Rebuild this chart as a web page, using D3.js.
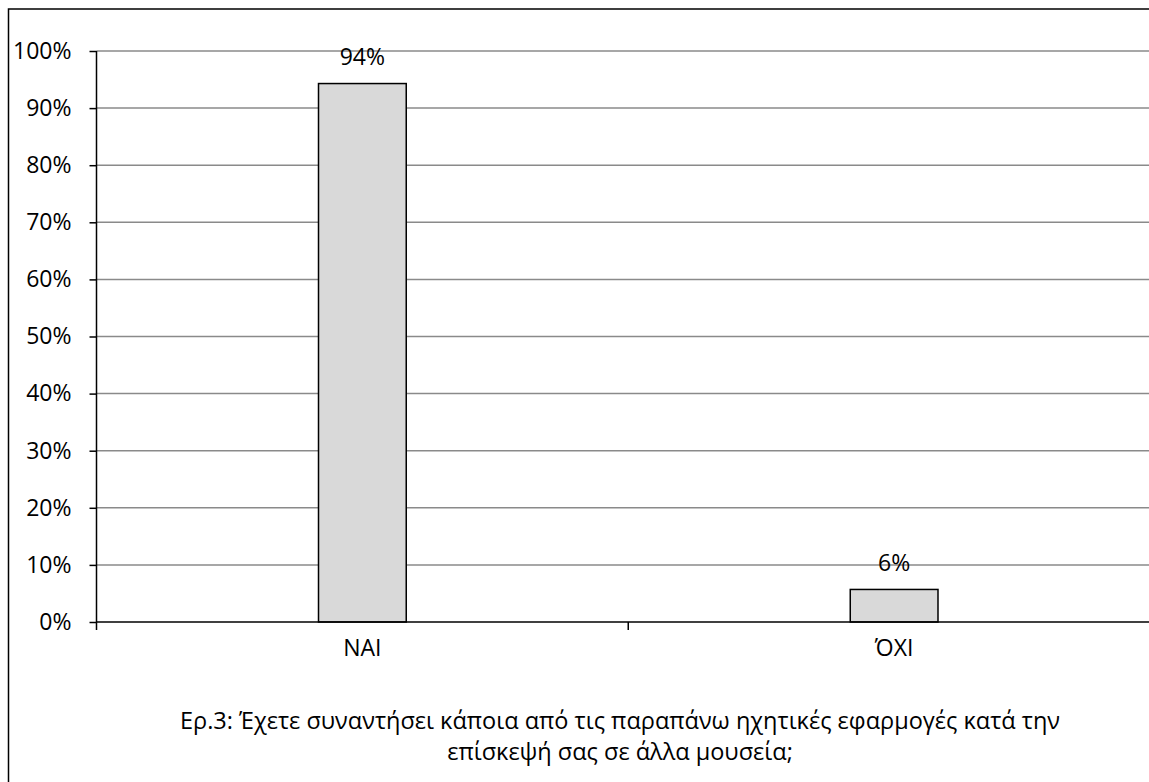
<!DOCTYPE html>
<html>
<head>
<meta charset="utf-8">
<script src="https://cdn.jsdelivr.net/npm/d3@7"></script>
<style>
  html, body { margin: 0; padding: 0; background: #fff; overflow: hidden; }
  svg { display: block; }
  text { font-family: "Open Sans", "Noto Sans", "DejaVu Sans", sans-serif; fill: #000; }
</style>
</head>
<body>
<svg id="chart" width="1149" height="782"></svg>
<script>
// Answers and their shares of respondents
const categories = ["ΝΑΙ", "ΌΧΙ"];
const shares = [0.943, 0.057];
const yTicks = [0, 0.1, 0.2, 0.3, 0.4, 0.5, 0.6, 0.7, 0.8, 0.9, 1.0];
const captionLines = [
  "Ερ.3: Έχετε συναντήσει κάποια από τις παραπάνω ηχητικές εφαρμογές κατά την",
  "επίσκεψή σας σε άλλα μουσεία;"
];

const svg = d3.select("#chart");
const W = 1149, H = 782;
const FS = 23;

// Outer chart frame: only its top and left edges fall inside the page
svg.append("path")
  .attr("d", `M${W},9H8.5V${H}`)
  .attr("fill", "none").attr("stroke", "#000").attr("stroke-width", 1.5);

const plot = { left: 96.5, right: 1160, top: 51, bottom: 622 };

const x = d3.scaleBand()
  .domain(categories)
  .range([plot.left, plot.right])
  .paddingInner(0.835).paddingOuter(0.4175);

const y = d3.scaleLinear()
  .domain([0, 1])
  .range([plot.bottom, plot.top]);

// Horizontal gridlines
svg.append("g")
  .selectAll("line")
  .data(yTicks.filter(t => t > 0))
  .join("line")
  .attr("x1", plot.left).attr("x2", W)
  .attr("y1", d => y(d)).attr("y2", d => y(d))
  .attr("stroke", "#8a8a8a").attr("stroke-width", 1.5);

// Bars
svg.append("g")
  .selectAll("rect")
  .data(categories)
  .join("rect")
  .attr("x", d => x(d))
  .attr("width", x.bandwidth())
  .attr("y", (d, i) => y(shares[i]))
  .attr("height", (d, i) => y(0) - y(shares[i]))
  .attr("fill", "#d9d9d9")
  .attr("stroke", "#000")
  .attr("stroke-width", 1.5);

// Value labels
const pct = d3.format(".0%");
svg.append("g")
  .selectAll("text")
  .data(categories)
  .join("text")
  .attr("x", d => x(d) + x.bandwidth() / 2)
  .attr("y", (d, i) => y(shares[i]) - 18.5)
  .attr("text-anchor", "middle")
  .attr("font-size", FS)
  .text((d, i) => pct(shares[i]));

// Y axis
const yAxis = d3.axisLeft(y)
  .tickValues(yTicks)
  .tickFormat(d3.format(".0%"))
  .tickSize(7)
  .tickPadding(18);
const gy = svg.append("g")
  .attr("transform", `translate(${plot.left},0)`)
  .call(yAxis);
gy.select(".domain").attr("stroke", "#000").attr("stroke-width", 1.5)
  .attr("d", `M0,${plot.top}V${plot.bottom + 8}`);
gy.selectAll(".tick line").attr("stroke", "#000").attr("stroke-width", 1.5);
gy.selectAll(".tick text")
  .attr("font-size", FS)
  .attr("font-family", "'Open Sans', 'Noto Sans', sans-serif")
  .attr("fill", "#000");

// X axis: baseline with ticks at category boundaries
const gx = svg.append("g");
gx.append("line")
  .attr("x1", plot.left).attr("x2", W)
  .attr("y1", plot.bottom).attr("y2", plot.bottom)
  .attr("stroke", "#000").attr("stroke-width", 1.5);
const boundaries = categories.slice(1).map(c => x(c) - x.step() * x.paddingInner() / 2);
gx.selectAll("line.tk")
  .data(boundaries)
  .join("line")
  .attr("class", "tk")
  .attr("x1", d => d).attr("x2", d => d)
  .attr("y1", plot.bottom).attr("y2", plot.bottom + 8)
  .attr("stroke", "#000").attr("stroke-width", 1.5);
gx.selectAll("text")
  .data(categories)
  .join("text")
  .attr("x", d => x(d) + x.bandwidth() / 2)
  .attr("y", 656)
  .attr("text-anchor", "middle")
  .attr("font-size", FS)
  .text(d => d);

// Caption below the chart
svg.append("g")
  .selectAll("text")
  .data(captionLines)
  .join("text")
  .attr("x", 620)
  .attr("y", (d, i) => 728.5 + i * 31.5)
  .attr("text-anchor", "middle")
  .attr("font-size", 23.5)
  .text(d => d);
</script>
</body>
</html>
